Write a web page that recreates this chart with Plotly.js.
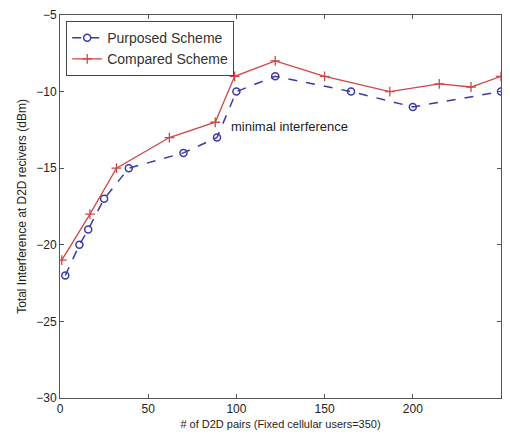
<!DOCTYPE html>
<html>
<head>
<meta charset="utf-8">
<script src="https://cdn.plot.ly/plotly-3.0.1.min.js"></script>
<style>html,body{margin:0;padding:0;background:#fff;}#chart{width:510px;height:439px;}</style>
</head>
<body>
<div id="chart"></div>
<script>
const purposedX = [3, 11, 16, 25, 39, 70, 89, 100, 122, 165, 200, 250];
const purposedY = [-22, -20, -19, -17, -15, -14, -13, -10, -9, -10, -11, -10];
const comparedX = [1, 17, 32, 62, 88, 99, 122, 150, 187, 215, 233, 250];
const comparedY = [-21, -18, -15, -13, -12, -9, -8, -9, -10, -9.5, -9.7, -9];
const xTicks = [0, 50, 100, 150, 200, 250];
const yTicks = [-30, -25, -20, -15, -10, -5];
const seriesNames = ['Purposed Scheme', 'Compared Scheme'];
const noteText = 'minimal interference';
const xTitle = '# of D2D pairs (Fixed cellular users=350)';
const yTitle = 'Total Interference at D2D recivers (dBm)';

const FONT = 'Liberation Sans, Arial, sans-serif';
const axisCommon = {
  showgrid: false, zeroline: false, showline: true, mirror: 'ticks',
  linecolor: '#555', linewidth: 1, ticks: 'inside', ticklen: 4, tickcolor: '#555',
  tickfont: {family: FONT, size: 12, color: '#222'}
};
const data = [
  {x: purposedX, y: purposedY, name: seriesNames[0], type: 'scatter', mode: 'lines+markers',
   line: {color: '#3a3aa6', width: 1.5, dash: 'dash'},
   marker: {symbol: 'circle-open', size: 7, color: '#3a3aa6', line: {width: 1.5}}},
  {x: comparedX, y: comparedY, name: seriesNames[1], type: 'scatter', mode: 'lines+markers',
   line: {color: '#d04545', width: 1.3},
   marker: {symbol: 'cross-thin-open', size: 7, color: '#d04545', line: {width: 1.3, color: '#d04545'}}}
];
const layout = {
  width: 510, height: 439,
  margin: {l: 60, r: 9, t: 15, b: 41},
  paper_bgcolor: '#fff', plot_bgcolor: '#fff',
  showlegend: true,
  legend: {x: 0.014, y: 0.984, xanchor: 'left', yanchor: 'top',
    bgcolor: '#fff', bordercolor: '#444', borderwidth: 1,
    font: {family: FONT, size: 14, color: '#333'}, tracegroupgap: 0},
  xaxis: Object.assign({}, axisCommon, {range: [0, 250], tickvals: xTicks,
    title: {text: xTitle, font: {family: FONT, size: 11, color: '#222'}, standoff: 4}}),
  yaxis: Object.assign({}, axisCommon, {range: [-30, -5], tickvals: yTicks,
    title: {text: yTitle, font: {family: FONT, size: 12, color: '#222'}, standoff: 7}}),
  annotations: [{x: 96, y: -12.25, xref: 'x', yref: 'y', text: noteText, showarrow: false,
    xanchor: 'left', yanchor: 'middle', font: {family: FONT, size: 13, color: '#222'}}]
};
Plotly.newPlot('chart', data, layout, {displayModeBar: false, staticPlot: true});
</script>
</body>
</html>
